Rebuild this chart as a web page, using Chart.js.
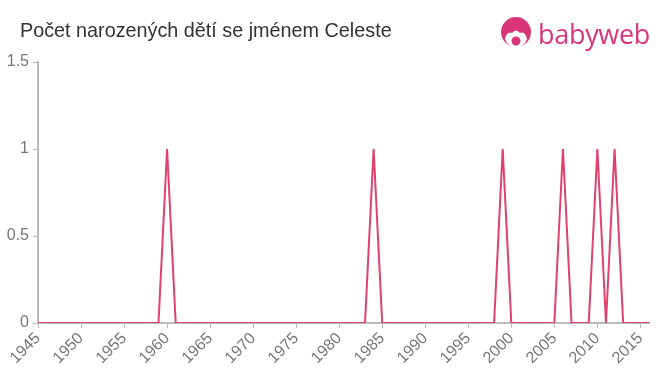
<!DOCTYPE html>
<html><head><meta charset="utf-8">
<script src="https://cdn.jsdelivr.net/npm/chart.js@4/dist/chart.umd.min.js"></script>
<style>
html,body{margin:0;padding:0;background:#fff;}
#wrap{position:relative;width:660px;height:375px;}
#title{position:absolute;left:20px;top:19px;font-family:"Liberation Sans",Arial,sans-serif;font-size:19.8px;color:#333;}
#logo{position:absolute;left:500px;top:15px;height:36px;display:flex;align-items:center;}
#logo span{font-family:"Open Sans","Liberation Sans",sans-serif;font-size:27px;color:#d9367a;margin-left:6px;letter-spacing:-0.3px;}
canvas{position:absolute;left:0;top:0;}
</style></head>
<body><div id="wrap">
<canvas id="c" width="660" height="375"></canvas>
<div id="title">Počet narozených dětí se jménem Celeste</div>
<div id="logo"><svg width="32" height="32" viewBox="0 0 32 32"><circle cx="16" cy="15" r="15" fill="#d9367a"/><path d="M5 22 Q7 14 12 16 Q16 11 20 16 Q25 14 27 22 Q24 30 16 31 Q8 30 5 22Z" fill="#fff"/><circle cx="16" cy="24" r="4.5" fill="#d9367a"/></svg><span>babyweb</span></div>
</div>
<script>
const years = [];
for (let y = 1945; y <= 2016; y++) years.push(y);
const peakYears = [1960, 1984, 1999, 2006, 2010, 2012];
const counts = years.map(y => peakYears.includes(y) ? 1 : 0);
const xTicks = [1945,1950,1955,1960,1965,1970,1975,1980,1985,1990,1995,2000,2005,2010,2015];
const yTicks = [0, 0.5, 1, 1.5];

new Chart(document.getElementById('c'), {
  type: 'line',
  data: { datasets: [{
    data: years.map((y,i) => ({x: y, y: counts[i]})),
    borderColor: '#e0416f', borderWidth: 2, pointRadius: 0, tension: 0, fill: false
  }]},
  options: {
    responsive: false, animation: false,
    layout: { padding: { top: 62, right: 11, left: 0, bottom: 0 } },
    plugins: { legend: { display: false }, tooltip: { enabled: false } },
    scales: {
      x: {
        type: 'linear', min: 1945, max: 2016,
        afterBuildTicks: s => { s.ticks = xTicks.map(v => ({value: v})); },
        ticks: { color: '#777', font: { family: '"Liberation Sans", Arial, sans-serif', size: 16 }, maxRotation: 45, minRotation: 45, autoSkip: false, padding: 1, callback: v => String(v) },
        grid: { display: true, drawOnChartArea: false, color: '#bbb', tickLength: 5, tickColor: '#bbb' },
        border: { color: '#bbb', width: 2 },
        afterFit: s => { s.height = 52; }
      },
      y: {
        min: 0, max: 1.5,
        afterBuildTicks: s => { s.ticks = yTicks.map(v => ({value: v})); },
        ticks: { color: '#777', font: { family: '"Liberation Sans", Arial, sans-serif', size: 16 }, padding: 4, callback: v => String(v) },
        grid: { display: true, drawOnChartArea: false, color: '#bbb', tickLength: 5, tickColor: '#bbb' },
        border: { color: '#bbb', width: 2 },
        afterFit: s => { s.width = 38; }
      }
    }
  }
});
</script>
</body></html>
